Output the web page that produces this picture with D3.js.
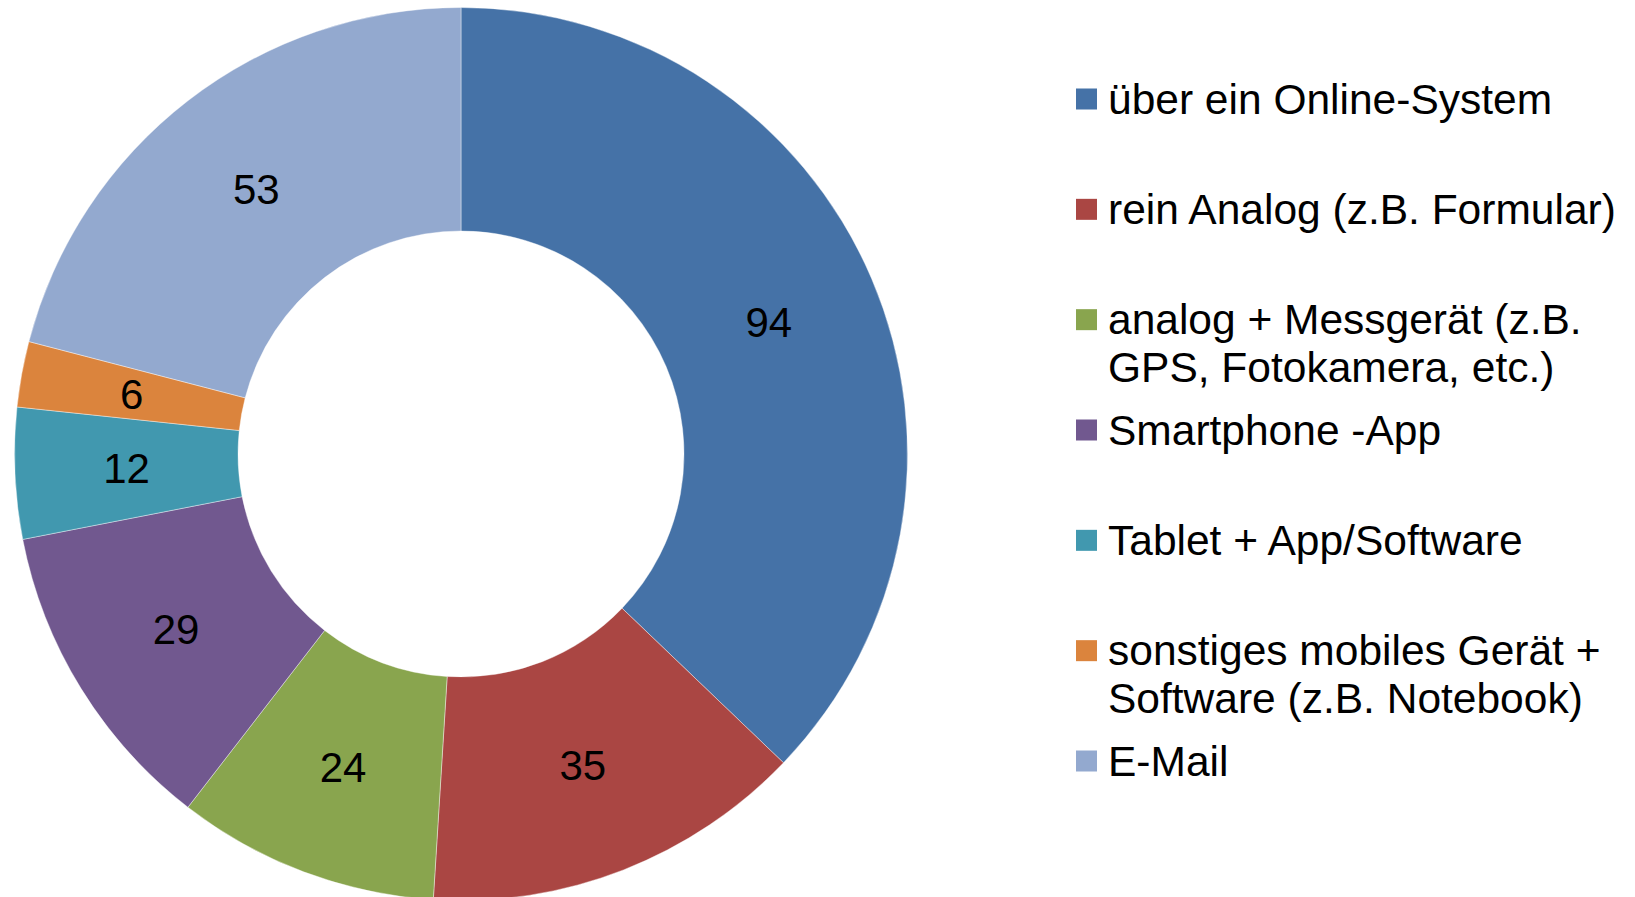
<!DOCTYPE html>
<html>
<head>
<meta charset="utf-8">
<script src="https://cdn.jsdelivr.net/npm/d3@7"></script>
<style>
  body { margin:0; background:#fff; }
  text { font-family: "Liberation Sans", Arial, sans-serif; }
</style>
</head>
<body>
<div id="chart"></div>
<script>
// categories (legend order), \n = line break in legend
var categories = [
  "über ein Online-System",
  "rein Analog (z.B. Formular)",
  "analog + Messgerät (z.B.\nGPS, Fotokamera, etc.)",
  "Smartphone -App",
  "Tablet + App/Software",
  "sonstiges mobiles Gerät +\nSoftware (z.B. Notebook)",
  "E-Mail"
];
var values = [94, 35, 24, 29, 12, 6, 53];
var colors = ["#4572A7", "#AA4643", "#89A54E", "#71588F", "#4198AF", "#DB843D", "#93A9CF"];

var width = 1635, height = 897;
var cx = 461, cy = 454;
var outerR = 446.5, innerR = 223;

var svg = d3.select("#chart").append("svg")
    .attr("width", width)
    .attr("height", height);

var pie = d3.pie().sort(null).value(function(d){ return d; });
var arcs = pie(values);

var arc = d3.arc().innerRadius(innerR).outerRadius(outerR);
var labelArc = d3.arc().innerRadius((innerR + outerR) / 2).outerRadius((innerR + outerR) / 2);

var g = svg.append("g").attr("transform", "translate(" + cx + "," + cy + ")");

g.selectAll("path")
    .data(arcs)
    .enter()
    .append("path")
    .attr("d", arc)
    .attr("fill", function(d, i){ return colors[i]; })
    .attr("stroke", "#ffffff")
    .attr("stroke-opacity", 0.5)
    .attr("stroke-width", 0.8);

g.selectAll("text.lbl")
    .data(arcs)
    .enter()
    .append("text")
    .attr("class", "lbl")
    .attr("transform", function(d){ return "translate(" + labelArc.centroid(d) + ")"; })
    .attr("text-anchor", "middle")
    .attr("dy", "0.35em")
    .attr("font-size", "42px")
    .attr("fill", "#000")
    .text(function(d){ return d.data; });

// legend
var legY = d3.scalePoint()
    .domain(d3.range(categories.length))
    .range([99, 761]);

var leg = svg.selectAll("g.leg")
    .data(categories)
    .enter()
    .append("g")
    .attr("class", "leg")
    .attr("transform", function(d, i){ return "translate(1076," + legY(i) + ")"; });

leg.append("rect")
    .attr("x", 0)
    .attr("y", -10.5)
    .attr("width", 21)
    .attr("height", 21)
    .attr("fill", function(d, i){ return colors[i]; });

leg.append("text")
    .attr("x", 32)
    .attr("y", 14.5)
    .attr("font-size", "42.5px")
    .attr("fill", "#000")
    .selectAll("tspan")
    .data(function(d){ return d.split("\n"); })
    .enter()
    .append("tspan")
    .attr("x", 32)
    .attr("dy", function(d, i){ return i == 0 ? 0 : 48; })
    .text(function(d){ return d; });
</script>
</body>
</html>
